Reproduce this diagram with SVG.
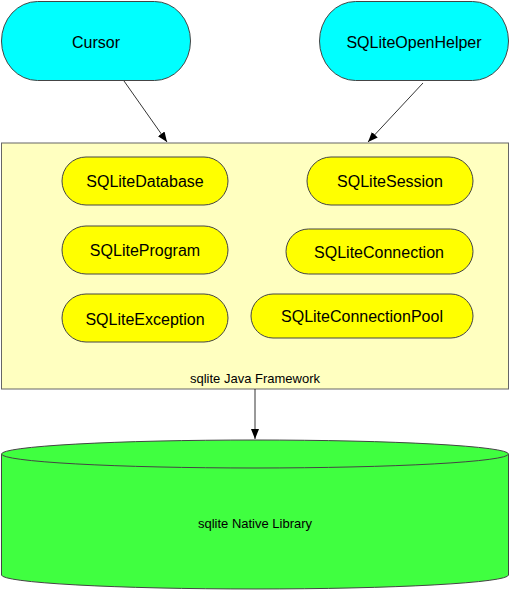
<svg xmlns="http://www.w3.org/2000/svg" width="510" height="590" viewBox="0 0 510 590">
<style>
text{font-family:"Liberation Sans",Arial,sans-serif;fill:#000;text-anchor:middle}
.top{fill:#00FFFF;stroke:#444;stroke-width:1}
.pill{fill:#FFFF00;stroke:#444;stroke-width:1}
.big{font-size:16px}
.sm{font-size:13px}
.conn{stroke:#000;stroke-width:0.8;fill:none;marker-end:url(#ah)}
</style>
<defs>
<marker id="ah" viewBox="0 0 10 10" refX="10" refY="5" markerWidth="10" markerHeight="10" markerUnits="userSpaceOnUse" orient="auto">
<path d="M0,1 L10,5 L0,9 Z" fill="#000"/>
</marker>
</defs>
<g id="framework">
<rect x="1.5" y="143" width="507" height="246" fill="#FFFFC0" stroke="#666" stroke-width="1"/>
<text class="sm" x="255" y="383">sqlite Java Framework</text>
</g>
<g id="native">
<path d="M1.5,454 L1.5,575 A253.5,14 0 0 0 508.5,575 L508.5,454" fill="#40FF40" stroke="#444" stroke-width="1"/>
<ellipse cx="255" cy="454" rx="253.5" ry="14" fill="#40FF40" stroke="#444" stroke-width="1"/>
<text class="sm" x="255" y="528">sqlite Native Library</text>
</g>
<g id="cursor">
<rect class="top" x="1.5" y="1.5" width="189" height="79" rx="36" ry="39.5"/>
<text class="big" x="96" y="48">Cursor</text>
</g>
<g id="openhelper">
<rect class="top" x="319.5" y="1.5" width="189" height="79" rx="36" ry="39.5"/>
<text class="big" x="414" y="48">SQLiteOpenHelper</text>
</g>
<g id="sqlitedatabase">
<rect class="pill" x="62" y="157" width="166" height="48" rx="24"/>
<text class="big" x="145" y="187">SQLiteDatabase</text>
</g>
<g id="sqlitesession">
<rect class="pill" x="307" y="157" width="166" height="48" rx="24"/>
<text class="big" x="390" y="187">SQLiteSession</text>
</g>
<g id="sqliteprogram">
<rect class="pill" x="62" y="226" width="166" height="48" rx="24"/>
<text class="big" x="145" y="256">SQLiteProgram</text>
</g>
<g id="sqliteconnection">
<rect class="pill" x="286" y="229" width="187" height="45" rx="22.5"/>
<text class="big" x="379" y="258">SQLiteConnection</text>
</g>
<g id="sqliteexception">
<rect class="pill" x="62" y="294" width="166" height="48" rx="24"/>
<text class="big" x="145" y="325">SQLiteException</text>
</g>
<g id="sqliteconnectionpool">
<rect class="pill" x="251" y="294" width="222" height="44" rx="22"/>
<text class="big" x="362" y="322">SQLiteConnectionPool</text>
</g>
<g id="connectors">
<line class="conn" x1="124" y1="81" x2="167" y2="142"/>
<line class="conn" x1="423" y1="83" x2="368" y2="142"/>
<line class="conn" x1="255" y1="389" x2="255" y2="439"/>
</g>
</svg>
